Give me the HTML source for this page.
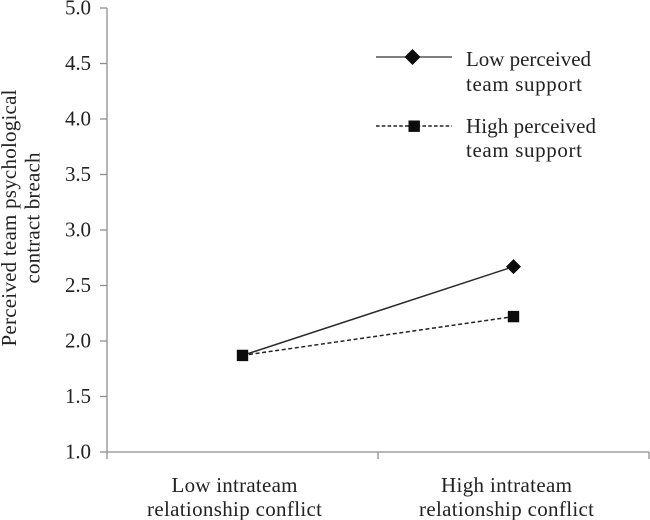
<!DOCTYPE html>
<html>
<head>
<meta charset="utf-8">
<style>
html,body{margin:0;padding:0;background:#fff;}
svg{display:block;}
text{font-family:"Liberation Serif",serif;fill:#222;font-size:21px;}
.ax{stroke:#8e8e8e;stroke-width:1.3;fill:none;}
</style>
</head>
<body>
<svg id="chart" width="650" height="520" viewBox="0 0 650 520" xmlns="http://www.w3.org/2000/svg">
  <g id="axes"></g>
  <g id="series"></g>
  <g>
    <text transform="translate(16,218) rotate(-90)" text-anchor="middle" textLength="257">Perceived team psychological</text>
    <text transform="translate(39.5,218) rotate(-90)" text-anchor="middle" textLength="131">contract breach</text>
  </g>
  <g>
    <g>
      <line x1="376" y1="57" x2="452" y2="57" stroke="#333" stroke-width="1.3"></line>
      <polygon points="412.5,49 420.5,57 412.5,65 404.5,57" fill="#0c0c0c"></polygon>
      <text x="466" y="66" textLength="125">Low perceived</text>
      <text x="466" y="91" textLength="116">team support</text>
    </g>
    <g>
      <line x1="376" y1="126" x2="452" y2="126" stroke="#222" stroke-width="1.4" stroke-dasharray="3.6 2.2"></line>
      <rect x="408.5" y="120.5" width="11.4" height="11.4" fill="#0c0c0c"></rect>
      <text x="466" y="133" textLength="130">High perceived</text>
      <text x="466" y="157" textLength="116">team support</text>
    </g>
  </g>
</svg>
<script>
var categories = [["Low intrateam", "relationship conflict"], ["High intrateam", "relationship conflict"]];
var yTicks = [1.0, 1.5, 2.0, 2.5, 3.0, 3.5, 4.0, 4.5, 5.0];
var lowSupport = [1.87, 2.67];
var highSupport = [1.87, 2.22];

var NS = "http://www.w3.org/2000/svg";
var left = 107, right = 649, top_ = 8, bottom = 452;
var yMin = 1, yMax = 5;
function yScale(v) { return bottom - (v - yMin) / (yMax - yMin) * (bottom - top_); }
function xEdge(i) { return left + i * (right - left) / categories.length; }
function xScale(i) { return xEdge(i + 0.5); }
function make(tag, attrs, parent) {
  var el = document.createElementNS(NS, tag);
  for (var k in attrs) { el.setAttribute(k, attrs[k]); }
  parent.appendChild(el);
  return el;
}
var axes = document.getElementById("axes");
var seriesG = document.getElementById("series");

var yAxis = make("line", {x1: left, y1: top_, x2: left, y2: bottom, "class": "ax"}, axes);


var xAxis = make("line", {x1: left, y1: bottom, x2: right, y2: bottom, "class": "ax"}, axes);



yTicks.forEach(function (t) {
  var y = yScale(t);
  var tick = make("line", {x1: left - 7, y1: y, x2: left, y2: y, "class": "ax"}, axes);
  
  
  var label = make("text", {x: 91, y: y + 6.5, "text-anchor": "end", textLength: 26}, axes);
  
  
  label.textContent = t.toFixed(1);
});

for (var i = 0; i <= categories.length; i++) {
  var xt = make("line", {x1: xEdge(i), y1: bottom, x2: xEdge(i), y2: bottom + 7, "class": "ax"}, axes);
  
  
}

categories.forEach(function (lines, i) {
  var widths = i === 0 ? [126, 175] : [131, 175];
  lines.forEach(function (line, j) {
    var label = make("text", {x: xScale(i) - (i === 0 ? 8 : 7), y: 492 + j * 24, "text-anchor": "middle", textLength: widths[j]}, axes);
    
    
    label.textContent = line;
  });
});

function linePoints(values) {
  return values.map(function (v, i) { return xScale(i) + "," + yScale(v); }).join(" ");
}

var lineLow = make("polyline", {points: linePoints(lowSupport), fill: "none", stroke: "#2a2a2a", "stroke-width": 1.5}, seriesG);


var lineHigh = make("polyline", {points: linePoints(highSupport), fill: "none", stroke: "#222", "stroke-width": 1.5, "stroke-dasharray": "4 2.6"}, seriesG);



lowSupport.forEach(function (v, i) {
  // where both series coincide, the square marker sits alone on top
  if (v === highSupport[i]) { return; }
  var cx = xScale(i), cy = yScale(v), r = 7.5;
  var pts = [[cx, cy - r], [cx + r, cy], [cx, cy + r], [cx - r, cy]].map(function (p) { return p.join(","); }).join(" ");
  var m = make("polygon", {points: pts, fill: "#0c0c0c"}, seriesG);
  
  
});
highSupport.forEach(function (v, i) {
  var s = 11.4;
  var m = make("rect", {x: xScale(i) - s / 2, y: yScale(v) - s / 2, width: s, height: s, fill: "#0c0c0c"}, seriesG);
  
  
});
</script>
</body>
</html>
